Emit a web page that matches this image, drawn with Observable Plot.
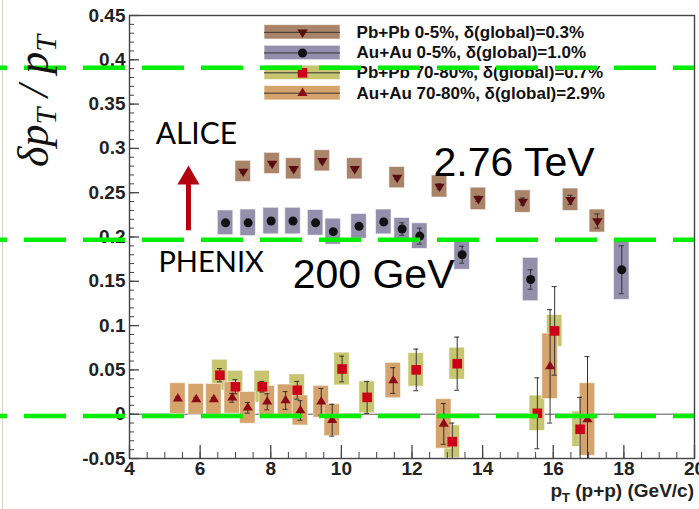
<!DOCTYPE html>
<html><head><meta charset="utf-8">
<script src="https://cdn.jsdelivr.net/npm/d3@7"></script>
<script src="https://cdn.jsdelivr.net/npm/@observablehq/plot@0.6"></script>
<style>
body{margin:0;background:#fff;}
#wrap{position:relative;width:699px;height:509px;overflow:hidden;}
#edge{position:absolute;left:2px;top:0;width:1px;height:509px;background:#cfd4cc;}
</style></head><body><div id="wrap"><div id="edge"></div></div>
<script>
// ---------------- DATA ----------------
// Pb+Pb 0-5% (ALICE 2.76 TeV)
const pbpb05_x    = [7.22, 8.04, 8.65, 9.46, 10.38, 11.58, 12.78, 13.88, 15.14, 16.49, 17.25];
const pbpb05_y    = [0.274, 0.283, 0.277, 0.286, 0.277, 0.267, 0.257, 0.243, 0.240, 0.242, 0.218];
const pbpb05_stat = [0.002, 0.002, 0.002, 0.002, 0.002, 0.002, 0.003, 0.003, 0.004, 0.005, 0.008];
const pbpb05_sys  = [0.012, 0.012, 0.012, 0.012, 0.012, 0.012, 0.0125, 0.0127, 0.0127, 0.0127, 0.013];
// Au+Au 0-5% (PHENIX 200 GeV)
const auau05_x    = [6.72, 7.36, 8.01, 8.63, 9.27, 9.77, 10.5, 11.2, 11.72, 12.22, 13.42, 15.36, 17.94];
const auau05_y    = [0.216, 0.216, 0.218, 0.218, 0.216, 0.206, 0.212, 0.217, 0.209, 0.201, 0.180, 0.152, 0.163];
const auau05_stat = [0.002, 0.002, 0.002, 0.002, 0.003, 0.003, 0.003, 0.004, 0.007, 0.009, 0.0095, 0.011, 0.027];
const auau05_sys  = [0.014, 0.015, 0.015, 0.015, 0.0145, 0.0147, 0.014, 0.014, 0.0125, 0.0145, 0.017, 0.0245, 0.034];
// Pb+Pb 70-80%
const pbpb7080_x    = [6.56, 7.0, 7.76, 8.75, 10.02, 10.73, 12.12, 13.14, 13.28, 15.55, 16.04, 16.76];
const pbpb7080_y    = [0.044, 0.031, 0.031, 0.027, 0.051, 0.019, 0.050, -0.031, 0.057, 0.001, 0.094, -0.017];
const pbpb7080_stat = [0.0075, 0.008, 0.006, 0.010, 0.0145, 0.018, 0.0235, 0.021, 0.030, 0.040, 0.050, 0.036];
const pbpb7080_sys  = [0.0175, 0.018, 0.018, 0.018, 0.0185, 0.018, 0.019, 0.0185, 0.018, 0.020, 0.018, 0.020];
// Au+Au 70-80%
const auau7080_x    = [5.37, 5.89, 6.39, 6.91, 7.35, 7.9, 8.42, 8.84, 9.43, 9.74, 11.47, 12.9, 15.91, 16.97];
const auau7080_y    = [0.0175, 0.0167, 0.0167, 0.0185, 0.0072, 0.014, 0.0155, 0.0042, 0.014, -0.0068, 0.038, -0.011, 0.054, -0.006];
const auau7080_stat = [0.002, 0.002, 0.002, 0.005, 0.006, 0.009, 0.010, 0.011, 0.015, 0.018, 0.0145, 0.023, 0.064, 0.071];
const auau7080_sys  = [0.0175, 0.0175, 0.0175, 0.018, 0.018, 0.018, 0.018, 0.017, 0.018, 0.018, 0.020, 0.028, 0.037, 0.041];

const legendLabels = [
  "Pb+Pb 0-5%, \u03b4(global)=0.3%",
  "Au+Au 0-5%, \u03b4(global)=1.0%",
  "Pb+Pb 70-80%, \u03b4(global)=0.7%",
  "Au+Au 70-80%, \u03b4(global)=2.9%"
];
const greenLevels = [0.391, 0.197, -0.002];
const annotations = [
  {text: "ALICE",    x: 4.74,  y: 0.316,  font: "Lato, 'Open Sans', sans-serif", size: 30},
  {text: "PHENIX",   x: 4.82,  y: 0.1707, font: "Lato, 'Open Sans', sans-serif", size: 29},
  {text: "2.76 TeV", x: 12.61, y: 0.284,  font: "'Liberation Sans', Arial, sans-serif", size: 41},
  {text: "200 GeV",  x: 8.62,  y: 0.1577, font: "'Liberation Sans', Arial, sans-serif", size: 41}
];
const arrowPts = {x: 5.67, yFrom: 0.207, yTo: 0.264, yHead: 0.2664};
const yMajor = d3.range(-1, 10).map(i => +(i * 0.05).toFixed(2));
const yMinor = d3.range(-5, 46).map(i => +(i * 0.01).toFixed(2));
const xMajor = d3.range(4, 21, 2);
const xMinor = d3.range(8, 41).map(i => i / 2);

// ---------------- LAYOUT / STYLE ----------------
const W = 699, H = 509, ML = 129, MR = 5, MT = 15, MB = 51;
const xDom = [4, 20], yDom = [-0.05, 0.45];
const pxX = (xDom[1] - xDom[0]) / (W - ML - MR);
const pxY = (yDom[1] - yDom[0]) / (H - MT - MB);
const BOX = 0.22, CAP = 2.5 * pxX;

const downTri = {draw(ctx, size) { const r = Math.sqrt(size / Math.PI); const w = 1.3 * r, h = 2.1 * r;
  ctx.moveTo(0, 2*h/3); ctx.lineTo(w, -h/3); ctx.lineTo(-w, -h/3); ctx.closePath(); }};
const upTri = {draw(ctx, size) { const r = Math.sqrt(size / Math.PI); const w = 1.2 * r, h = 2.0 * r;
  ctx.moveTo(0, -2*h/3); ctx.lineTo(w, h/3); ctx.lineTo(-w, h/3); ctx.closePath(); }};

const mk = (xs, ys, st, sy) => xs.map((x, i) => ({x, y: ys[i], stat: st[i], sys: sy[i]}));
const series = [
  {rows: mk(pbpb05_x, pbpb05_y, pbpb05_stat, pbpb05_sys), box: "#a98468", mark: "#5b0c12", symbol: downTri, r: 4},
  {rows: mk(auau05_x, auau05_y, auau05_stat, auau05_sys), box: "#938fac", mark: "#111111", symbol: "circle", r: 4.5},
  {rows: mk(pbpb7080_x, pbpb7080_y, pbpb7080_stat, pbpb7080_sys), box: "#c7c570", mark: "#cc0018", symbol: "square", r: 5.4},
  {rows: mk(auau7080_x, auau7080_y, auau7080_stat, auau7080_sys), box: "#d4a46c", mark: "#8c0a18", symbol: upTri, r: 4.2}
];
const legendRowsY = [0.431, 0.4077, 0.3853, 0.3623];
const legendBox = {x1: 7.824, x2: 9.977, xm: 8.90, xt: 10.43, h: 7.2 * pxY};
const legendRows = series.map((s, i) => ({...s, label: legendLabels[i], y: legendRowsY[i]}));

const marks = [
  Plot.ruleY([0], {stroke: "#555", strokeWidth: 1}),
  // boxes
  ...series.map(s => Plot.rect(s.rows, {x1: d => d.x - BOX, x2: d => d.x + BOX, y1: d => d.y - d.sys, y2: d => d.y + d.sys,
      fill: s.box, stroke: "#ffffff", strokeOpacity: 0.6, strokeWidth: 1, clip: true})),
  // error bars
  ...series.flatMap(s => [
    Plot.ruleX(s.rows, {x: "x", y1: d => d.y - d.stat, y2: d => d.y + d.stat, stroke: "#333", strokeWidth: 1, clip: true}),
    Plot.ruleY(s.rows, {y: d => d.y + d.stat, x1: d => d.x - CAP, x2: d => d.x + CAP, stroke: "#333", strokeWidth: 1, clip: true}),
    Plot.ruleY(s.rows, {y: d => d.y - d.stat, x1: d => d.x - CAP, x2: d => d.x + CAP, stroke: "#333", strokeWidth: 1, clip: true})
  ]),
  // markers
  ...series.map(s => Plot.dot(s.rows, {x: "x", y: "y", symbol: () => s.symbol, r: s.r, fill: s.mark, stroke: "none"})),
  // legend
  Plot.rect(legendRows, {x1: legendBox.x1, x2: legendBox.x2, y1: d => d.y - legendBox.h, y2: d => d.y + legendBox.h, fill: d => d.box, stroke: "#fff", strokeOpacity: 0.6}),
  Plot.ruleY(legendRows, {y: "y", x1: legendBox.x1, x2: legendBox.x2, stroke: "#333", strokeWidth: 1}),
  ...legendRows.map(s => Plot.dot([s], {x: legendBox.xm, y: "y", symbol: () => s.symbol, r: s.r, fill: s.mark, stroke: "none"})),
  Plot.text(legendRows, {x: legendBox.xt, y: "y", text: "label", textAnchor: "start", lineAnchor: "middle", fontSize: 17, fontWeight: "bold", fill: "#111"}),
  // frame & ticks
  Plot.frame({stroke: "#444", strokeWidth: 1.4}),
  Plot.ruleY(yMajor, {y: d => d, x1: xDom[0], x2: xDom[0] + 10 * pxX, stroke: "#444", strokeWidth: 1.3}),
  Plot.ruleY(yMinor, {y: d => d, x1: xDom[0], x2: xDom[0] + 5 * pxX, stroke: "#444", strokeWidth: 1}),
  Plot.ruleX(xMajor, {x: d => d, y1: yDom[0], y2: yDom[0] + 13 * pxY, stroke: "#444", strokeWidth: 1.3}),
  Plot.ruleX(xMinor, {x: d => d, y1: yDom[0], y2: yDom[0] + 6 * pxY, stroke: "#444", strokeWidth: 1}),
  Plot.axisY({ticks: yMajor, tickSize: 0, tickPadding: 4, tickFormat: d => String(d), label: null, fontSize: 19, fontWeight: "bold", fill: "#222"}),
  Plot.axisX({ticks: xMajor, tickSize: 0, tickPadding: 3, tickFormat: d => String(d), label: null, fontSize: 19, fontWeight: "bold", fill: "#222"}),
  // annotations
  ...annotations.map(a => Plot.text([a], {x: "x", y: "y", text: "text", textAnchor: "start", lineAnchor: "middle", fontSize: a.size, fontFamily: a.font, fill: "#000"})),
  Plot.ruleX([arrowPts], {x: "x", y1: "yFrom", y2: "yTo", stroke: "#b3000c", strokeWidth: 5}),
  Plot.dot([arrowPts], {x: "x", y: "yHead", symbol: "triangle", r: 8.2, fill: "#b3000c", stroke: "none"}),
  // green dashed overlay lines
  Plot.ruleY(greenLevels, {y: d => d, x1: xDom[0] - ML * pxX, x2: xDom[1], stroke: "#00ee00", strokeWidth: 4.5, strokeDasharray: "42,17", strokeDashoffset: 35})
];

const chart = Plot.plot({
  width: W, height: H, marginLeft: ML, marginRight: MR, marginTop: MT, marginBottom: MB,
  x: {domain: xDom},
  y: {domain: yDom},
  style: {fontFamily: "'Liberation Sans', Arial, Helvetica, sans-serif", background: "transparent", overflow: "visible"},
  marks
});

const svg = d3.select(chart);
// y title  δp_T / p_T
const yt = svg.append("text").attr("transform", "translate(48,101) rotate(-90)")
  .attr("text-anchor", "middle").attr("font-family", "'Liberation Serif', 'DejaVu Serif', serif")
  .attr("font-style", "italic").attr("font-size", 44).attr("fill", "#111");
yt.append("tspan").text("\u03b4p");
yt.append("tspan").attr("font-size", 30).attr("dy", 8).text("T");
yt.append("tspan").attr("dy", -8).text(" / p");
yt.append("tspan").attr("font-size", 30).attr("dy", 8).text("T");
// x title  p_T (p+p) (GeV/c)
const xt = svg.append("text").attr("x", 694).attr("y", 497).attr("text-anchor", "end")
  .attr("font-family", "'Liberation Sans', Arial, sans-serif").attr("font-weight", "bold").attr("font-size", 19).attr("fill", "#222");
xt.append("tspan").text("p");
xt.append("tspan").attr("font-size", 13).attr("dy", 5).text("T");
xt.append("tspan").attr("dy", -5).text(" (p+p) (GeV/c)");

document.getElementById("wrap").appendChild(chart);
chart.style.position = "absolute"; chart.style.left = "0"; chart.style.top = "0";
</script>
</body></html>
